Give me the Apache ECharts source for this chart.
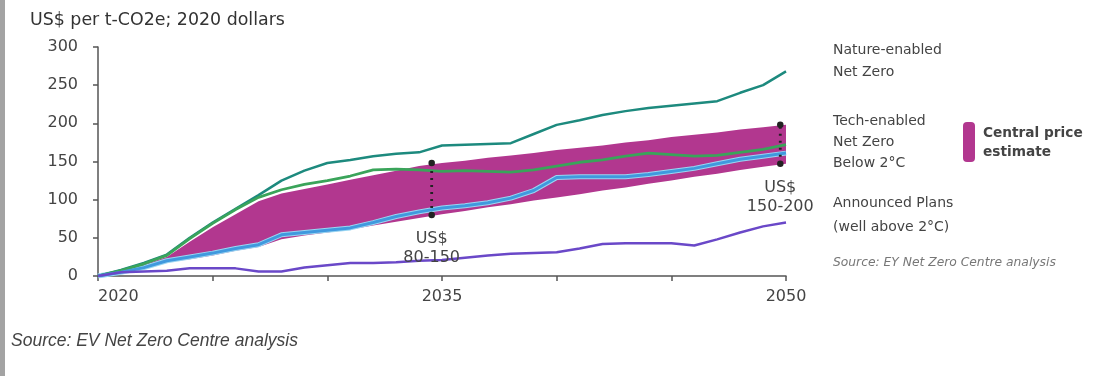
<!DOCTYPE html>
<html>
<head>
<meta charset="utf-8">
<script src="https://cdn.jsdelivr.net/npm/echarts@6/dist/echarts.min.js"></script>
<style>
html,body{margin:0;padding:0;background:#fff;}
#c{width:1102px;height:376px;}
</style>
</head>
<body>
<div id="c"></div>
<script>
const years = [2020,2021,2022,2023,2024,2025,2026,2027,2028,2029,2030,2031,2032,2033,2034,2035,2036,2037,2038,2039,2040,2041,2042,2043,2044,2045,2046,2047,2048,2049,2050];
const natureNetZero = [0,8,17,28,50,70,88,106,125,138,148,152,157,160,162,171,172,173,174,186,198,204,211,216,220,223,226,229,240,250,268];
const techNetZero = [0,7,16,27,49,69,87,103,113,120,125,131,139,140,139,137,138,137,136,139,144,149,152,157,161,159,157,158,162,166,172];
const below2C = [0,5,11,20,25,30,36,41,54,57,60,63,70,78,84,89,92,96,102,112,129,130,130,130,133,137,141,147,153,157,161];
const announcedPlans = [0,5,6,7,10,10,10,6,6,11,14,17,17,18,20,21,24,27,29,30,31,36,42,43,43,43,40,48,57,65,70];
const bandLower = [0,4,9,18,22,27,33,38,48,53,57,61,66,71,76,81,85,90,94,99,103,107,112,116,121,125,130,134,139,143,147];
const bandUpper = [0,6,15,25,45,64,81,98,108,114,120,126,132,138,144,148,151,155,158,161,165,168,171,175,178,182,185,188,192,195,198];
const rangeMarker2035 = [[2034.55,80],[2034.55,148]];
const rangeMarker2050 = [[2049.75,147],[2049.75,198]];
const xTickLabels = ['2020','2035','2050'];
const yTicks = [0,50,100,150,200,250,300];

const pairs = arr => years.map((y,i)=>[y,arr[i]]);

const FONT = '"DejaVu Sans", "Open Sans", sans-serif';
const chart = echarts.init(document.getElementById('c'), null, {renderer:'canvas'});

function lineSeries(name, data, color, width, z) {
  return {
    name, type:'line', data: pairs(data), symbol:'none', z: z || 5,
    lineStyle:{color, width}, itemStyle:{color}
  };
}

function markerSeries(name, data, text) {
  return {
    name, type:'line', data, z:7,
    symbol:'circle', symbolSize:6.5, itemStyle:{color:'#222'},
    lineStyle:{color:'#222', width:2.8, type:[2,5]},
    label:{show:true, position:'bottom', distance:11,
      formatter: p => p.dataIndex===0 ? text : '',
      fontFamily:FONT, fontSize:16, lineHeight:19, color:'#444'}
  };
}

const option = {
  animation:false,
  backgroundColor:'#ffffff',
  title:{
    text:'US$ per t-CO2e; 2020 dollars', left:30, top:12, padding:0,
    textStyle:{fontFamily:FONT, fontSize:17.4, fontWeight:'normal', color:'#333'}
  },
  grid:{left:98, right:316, top:47, bottom:100, containLabel:false},
  xAxis:{
    type:'value', min:2020, max:2050, interval:5,
    axisLine:{show:true, lineStyle:{color:'#555', width:1.5}},
    axisTick:{show:true, length:5, lineStyle:{color:'#555', width:1.5}},
    splitLine:{show:false},
    axisLabel:{
      margin:13, fontFamily:FONT, fontSize:16, color:'#444',
      formatter: v => xTickLabels.includes(String(v)) ? String(v) : '',
      alignMinLabel:'left'
    }
  },
  yAxis:{
    type:'value', min:0, max:300, interval:50,
    axisLine:{show:true, lineStyle:{color:'#555', width:1.5}},
    axisTick:{show:true, length:5, lineStyle:{color:'#555', width:1.5}},
    splitLine:{show:false},
    axisLabel:{margin:20, fontFamily:FONT, fontSize:16, color:'#444',
      formatter: v => yTicks.includes(v) ? String(v) : ''}
  },
  series:[
    {
      name:'Central price estimate', type:'custom', z:2, silent:true,
      data:[0],
      renderItem: (params, api) => {
        const pts = [];
        for (let i = 0; i < years.length; i++) pts.push(api.coord([years[i], bandUpper[i]]));
        for (let i = years.length - 1; i >= 0; i--) pts.push(api.coord([years[i], bandLower[i]]));
        return {type:'polygon', shape:{points:pts}, style:{fill:'#b2378f'}};
      }
    },
    lineSeries('Nature-enabled Net Zero', natureNetZero, '#1d8a7e', 2.5),
    lineSeries('Tech-enabled Net Zero', techNetZero, '#3aa45a', 2.8),
    {name:'below2halo', type:'line', data: pairs(below2C), symbol:'none', z:4,
     lineStyle:{color:'#9ad6f2', width:5}},
    lineSeries('Below 2°C', below2C, '#4099de', 3),
    lineSeries('Announced Plans (well above 2°C)', announcedPlans, '#6a48c8', 2.5),
    markerSeries('range2035', rangeMarker2035, 'US$\n80-150'),
    markerSeries('range2050', rangeMarker2050, 'US$\n150-200')
  ],
  graphic:[
    {type:'rect', left:0, top:0, shape:{width:5, height:376}, style:{fill:'#a3a3a3'}},
    {type:'text', left:833, top:39, style:{text:'Nature-enabled\nNet Zero', font:'14px "DejaVu Sans", sans-serif', fill:'#444', lineHeight:22}},
    {type:'text', left:833, top:111, style:{text:'Tech-enabled\nNet Zero\nBelow 2°C', font:'14px "DejaVu Sans", sans-serif', fill:'#444', lineHeight:21}},
    {type:'text', left:833, top:191, style:{text:'Announced Plans\n(well above 2°C)', font:'14px "DejaVu Sans", sans-serif', fill:'#444', lineHeight:24}},
    {type:'text', left:833, top:257, style:{text:'Source: EY Net Zero Centre analysis', font:'italic 12.3px "DejaVu Sans", sans-serif', fill:'#777'}},
    {type:'rect', left:963, top:122, shape:{width:12, height:40, r:4}, style:{fill:'#b2378f'}},
    {type:'text', left:983, top:124, style:{text:'Central price\nestimate', font:'bold 13.7px "DejaVu Sans", sans-serif', fill:'#444', lineHeight:19}},
    {type:'text', left:11, top:332, style:{text:'Source: EV Net Zero Centre analysis', font:'italic 17.5px "Liberation Sans", Arial, sans-serif', fill:'#444'}}
  ]
};
chart.setOption(option);
</script>
</body>
</html>
